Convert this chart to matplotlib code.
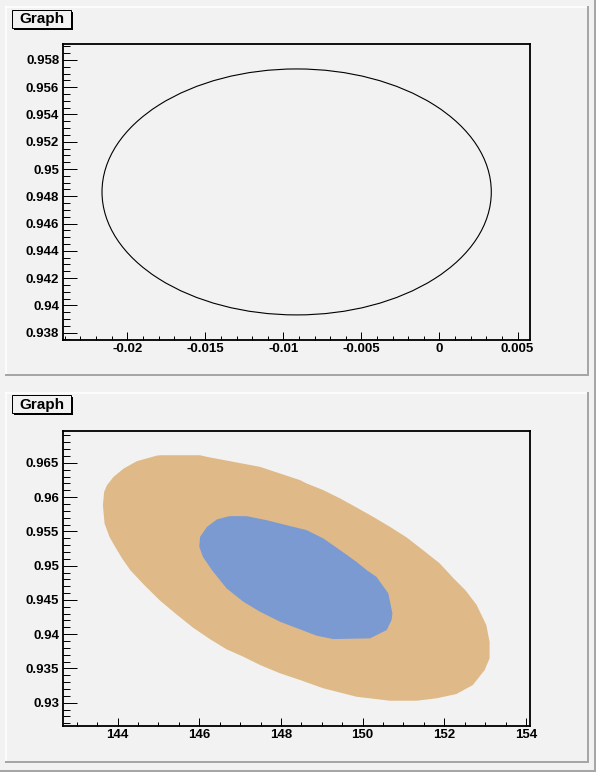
import matplotlib
matplotlib.use("Agg")
import matplotlib.pyplot as plt
from matplotlib.patches import Ellipse, Rectangle
from matplotlib.ticker import MultipleLocator, FixedLocator, FixedFormatter

plt.rcParams['font.family'] = ['Liberation Sans', 'DejaVu Sans']

# ---------------- data ----------------
# top pad: single contour (ellipse) of the graph
top_center_x = -0.00915
top_center_y = 0.94832
top_width = 0.02494
top_height = 0.01804
top_xlim = (-0.0241, 0.0058)
top_ylim = (0.93746, 0.95917)
top_xticks = [-0.02, -0.015, -0.01, -0.005, 0.0, 0.005]
top_xticklabels = ["-0.02", "-0.015", "-0.01", "-0.005", "0", "0.005"]
top_yticks = [0.938, 0.94, 0.942, 0.944, 0.946, 0.948, 0.95, 0.952, 0.954, 0.956, 0.958]
top_yticklabels = ["0.938", "0.94", "0.942", "0.944", "0.946", "0.948", "0.95",
                   "0.952", "0.954", "0.956", "0.958"]

# bottom pad: outer (orange) contour region
outer_x = [145.07, 146.02, 146.19, 146.84, 147.49, 147.98, 148.47, 148.63, 149.04, 149.45,
           149.85, 150.26, 150.67, 151.08, 151.48, 151.89, 152.22, 152.52, 152.79, 153.03,
           153.11, 153.11, 152.99, 152.70, 152.30, 151.81, 151.32, 150.67, 149.85, 149.04,
           148.47, 147.98, 147.49, 147.08, 146.67, 146.27, 145.86, 145.45, 145.04, 144.64,
           144.31, 144.11, 143.94, 143.80, 143.68, 143.64, 143.67, 143.74, 143.90, 144.15,
           144.47, 144.97]
outer_y = [0.96612, 0.96612, 0.96588, 0.96515, 0.96442, 0.96345, 0.96248, 0.96200, 0.96102, 0.95981,
           0.95850, 0.95712, 0.95567, 0.95412, 0.95227, 0.95033, 0.94820, 0.94640, 0.94430, 0.94133,
           0.93890, 0.93647, 0.93477, 0.93258, 0.93127, 0.93064, 0.93029, 0.93029, 0.93087, 0.93210,
           0.93331, 0.93429, 0.93550, 0.93671, 0.93779, 0.93925, 0.94090, 0.94285, 0.94490, 0.94725,
           0.94935, 0.95106, 0.95275, 0.95421, 0.95616, 0.95883, 0.96077, 0.96175, 0.96296, 0.96418,
           0.96525, 0.96608]
# inner (blue) contour region
inner_x = [146.74, 147.16, 147.65, 148.30, 148.63, 149.04, 149.45, 149.85, 150.10, 150.34,
           150.63, 150.73, 150.71, 150.59, 150.18, 149.28, 148.88, 148.47, 147.98, 147.49,
           147.08, 146.67, 146.31, 146.09, 146.00, 146.02, 146.19, 146.43]
inner_y = [0.95723, 0.95723, 0.95664, 0.95567, 0.95519, 0.95397, 0.95227, 0.95056, 0.94935, 0.94837,
           0.94595, 0.94304, 0.94206, 0.94060, 0.93939, 0.93929, 0.93977, 0.94070, 0.94181, 0.94327,
           0.94473, 0.94668, 0.94935, 0.95129, 0.95275, 0.95421, 0.95567, 0.95675]
bot_xlim = (142.67, 154.1)
bot_ylim = (0.9266, 0.9697)
bot_xticks = [144, 146, 148, 150, 152, 154]
bot_xticklabels = ["144", "146", "148", "150", "152", "154"]
bot_yticks = [0.93, 0.935, 0.94, 0.945, 0.95, 0.955, 0.96, 0.965]
bot_yticklabels = ["0.93", "0.935", "0.94", "0.945", "0.95", "0.955", "0.96", "0.965"]
title_text = "Graph"

# ---------------- style ----------------
BG = '#f2f2f2'
SHADOW = '#a6a6a6'
ORANGE = '#dfba88'
BLUE = '#7b9ad2'
W, H = 596, 772
PX = 0.72  # points per pixel at 100 dpi

fig = plt.figure(figsize=(W / 100, H / 100), dpi=100)
fig.patch.set_facecolor(BG)

deco = fig.add_axes([0, 0, 1, 1], zorder=0)
deco.set_xlim(0, W)
deco.set_ylim(H, 0)
deco.axis('off')

# canvas border
deco.plot([595, 595], [0, 772], color=SHADOW, lw=2 * PX, solid_capstyle='butt')
deco.plot([0, 596], [771, 771], color=SHADOW, lw=2 * PX, solid_capstyle='butt')


def draw_pad(y0, y1):
    deco.plot([5, 589], [y0 + 0.5, y0 + 0.5], color='white', lw=1.5 * PX, solid_capstyle='butt')
    deco.plot([5.5, 5.5], [y0, y1], color='white', lw=1.5 * PX, solid_capstyle='butt')
    deco.plot([588, 588], [y0, y1 + 1], color=SHADOW, lw=2 * PX, solid_capstyle='butt')
    deco.plot([5, 589], [y1, y1], color=SHADOW, lw=2 * PX, solid_capstyle='butt')


def draw_title(y0):
    deco.add_patch(Rectangle((12, y0 + 10), 59, 18, facecolor=BG, edgecolor='black',
                             lw=1 * PX, zorder=3))
    deco.plot([72, 72], [y0 + 12, y0 + 30], color='black', lw=2 * PX, solid_capstyle='butt', zorder=3)
    deco.plot([14, 73], [y0 + 29, y0 + 29], color='black', lw=2 * PX, solid_capstyle='butt', zorder=3)
    deco.text(41.5, y0 + 19.5, title_text, ha='center', va='center', fontsize=11,
              fontweight='bold', color='black', zorder=4)


draw_pad(6, 375)
draw_pad(392, 762)
draw_title(0)
draw_title(385)


def style_axes(ax, xlim, ylim, xt, xtl, yt, ytl, xminor, yminor):
    ax.set_facecolor('none')
    ax.set_xlim(*xlim)
    ax.set_ylim(*ylim)
    ax.xaxis.set_major_locator(FixedLocator(xt))
    ax.xaxis.set_major_formatter(FixedFormatter(xtl))
    ax.yaxis.set_major_locator(FixedLocator(yt))
    ax.yaxis.set_major_formatter(FixedFormatter(ytl))
    ax.xaxis.set_minor_locator(MultipleLocator(xminor))
    ax.yaxis.set_minor_locator(MultipleLocator(yminor))
    ax.tick_params(axis='both', which='both', direction='in', width=1.0 * PX,
                   top=False, right=False, colors='black')
    ax.tick_params(axis='y', which='major', length=14 * PX, pad=3)
    ax.tick_params(axis='y', which='minor', length=7 * PX)
    ax.tick_params(axis='x', which='major', length=8.5 * PX, pad=2.2)
    ax.tick_params(axis='x', which='minor', length=4.3 * PX)
    for lab in ax.get_xticklabels() + ax.get_yticklabels():
        lab.set_fontsize(9.5)
        lab.set_fontweight('bold')
    for s in ax.spines.values():
        s.set_linewidth(1.4 * PX * 1.3)
        s.set_color('black')


left = 63.3 / W
width = (530 - 63.3) / W

# top pad axes
ax1 = fig.add_axes([left, 1 - 340 / H, width, (340 - 44) / H], zorder=2)
style_axes(ax1, top_xlim, top_ylim, top_xticks, top_xticklabels,
           top_yticks, top_yticklabels, 0.001, 0.0005)
ax1.add_patch(Ellipse((top_center_x, top_center_y), top_width, top_height,
                      fill=False, edgecolor='black', lw=0.8))

# bottom pad axes
ax2 = fig.add_axes([left, 1 - 726 / H, width, (726 - 430.7) / H], zorder=2)
style_axes(ax2, bot_xlim, bot_ylim, bot_xticks, bot_xticklabels,
           bot_yticks, bot_yticklabels, 0.5, 0.001)
ax2.fill(outer_x, outer_y, color=ORANGE, lw=0)
ax2.fill(inner_x, inner_y, color=BLUE, lw=0)

fig.savefig('out.png', dpi=100, facecolor=BG)
